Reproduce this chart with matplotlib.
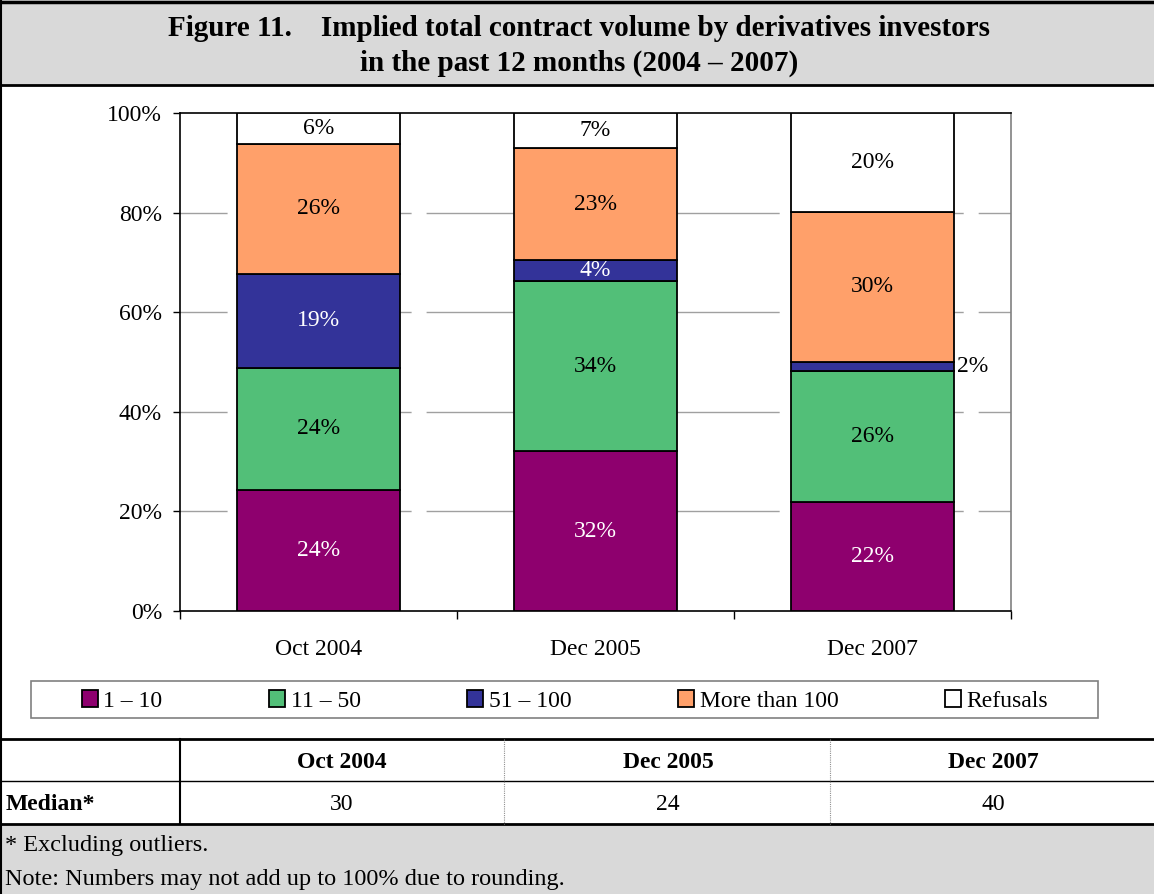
import matplotlib
matplotlib.use("Agg")
import matplotlib.pyplot as plt
import numpy as np
from matplotlib.patches import Rectangle, Patch
from matplotlib.lines import Line2D

plt.rcParams["font.family"] = ["Liberation Serif", "DejaVu Serif"]

W, H = 1154, 894

# data
periods = ["Oct 2004", "Dec 2005", "Dec 2007"]
series = ["1 \u2013 10", "11 \u2013 50", "51 \u2013 100", "More than 100", "Refusals"]
band_1_10 = [24.3, 32.1, 21.8]
band_11_50 = [24.5, 34.1, 26.3]
band_51_100 = [18.9, 4.2, 2.0]
band_over_100 = [26.1, 22.6, 30.0]
refusals = [6.2, 7.0, 19.9]
# printed labels (rounded as in the source)
labels_1_10 = [24, 32, 22]
labels_11_50 = [24, 34, 26]
labels_51_100 = [19, 4, 2]
labels_over_100 = [26, 23, 30]
labels_refusals = [6, 7, 20]
medians = [30, 24, 40]

colors = ["#8E006E", "#52BF78", "#333399", "#FFA06A", "#FFFFFF"]
text_colors = ["white", "black", "white", "black", "black"]


def fx(x):
    return x / W


def fy(y):
    return 1 - y / H


fig = plt.figure(figsize=(W / 100, H / 100), dpi=100)

# title band
fig.patches.append(Rectangle((0, fy(85)), 1, 85 / H, transform=fig.transFigure,
                             facecolor="#D9D9D9", edgecolor="none", zorder=0))
# notes band
fig.patches.append(Rectangle((0, 0), 1, fy(824), transform=fig.transFigure,
                             facecolor="#D9D9D9", edgecolor="none", zorder=0))

fig.text(fx(579), fy(29),
         "Figure 11." + " " * 4 + "Implied total contract volume by derivatives investors",
         ha="center", va="center", fontsize=21, fontweight="bold")
fig.text(fx(579), fy(63), "in the past 12 months (2004 \u2013 2007)",
         ha="center", va="center", fontsize=21, fontweight="bold")

ax = fig.add_axes([fx(180), fy(611), fx(1011) - fx(180), fy(113) - fy(611)])

values = [band_1_10, band_11_50, band_51_100, band_over_100, refusals]
labels = [labels_1_10, labels_11_50, labels_51_100, labels_over_100, labels_refusals]
x = np.arange(len(periods))
bottom = np.zeros(len(periods))
handles = []
for i, name in enumerate(series):
    bars = ax.bar(x, values[i], width=0.59, bottom=bottom, color=colors[i],
                  edgecolor="black", linewidth=1.3, zorder=3, label=name)
    txt = [f"{v}%" for v in labels[i]]
    if i == 2:
        # the 2% slice in Dec 2007 is labelled outside the bar
        outside = txt[2]
        txt[2] = ""
        b = bars[2]
        ax.text(b.get_x() + b.get_width() + 0.01, b.get_y() + b.get_height() / 2,
                outside, ha="left", va="center", fontsize=17, color="black", zorder=4)
    ax.bar_label(bars, labels=txt, label_type="center", fontsize=17,
                 color=text_colors[i], zorder=4)
    bottom += np.array(values[i])
    handles.append(Patch(facecolor=colors[i], edgecolor="black", linewidth=1.3))

ax.set_xlim(-0.5, 2.5)
ax.set_ylim(0, 100)
ax.set_yticks([0, 20, 40, 60, 80, 100])
ax.set_yticklabels([f"{v}%" for v in [0, 20, 40, 60, 80, 100]], fontsize=17)
ax.tick_params(axis="y", direction="out", length=5, width=1, pad=8)
ax.set_xticks(x)
ax.set_xticklabels(periods, fontsize=17)
ax.set_xticks([-0.5, 0.5, 1.5, 2.5], minor=True)
ax.tick_params(axis="x", which="major", length=0, pad=20)
ax.tick_params(axis="x", which="minor", direction="out", length=6, width=1)

# long-dash gridlines, pattern in points at lw=1
for y in [20, 40, 60, 80]:
    ax.axhline(y, color="#A0A0A0", linewidth=1.0, zorder=1,
               linestyle=(87.8, (121.7, 10.8)))

ax.spines["left"].set_linewidth(1.2)
ax.spines["bottom"].set_linewidth(1.2)
ax.spines["top"].set_linewidth(1.2)
ax.spines["right"].set_color("#808080")
ax.spines["right"].set_linewidth(1.2)

# legend box
fig.patches.append(Rectangle((fx(31), fy(718)), fx(1098) - fx(31), fy(681) - fy(718),
                             transform=fig.transFigure, facecolor="white",
                             edgecolor="#808080", linewidth=1.2, zorder=1))
fig.legend(handles, series, loc="center", bbox_to_anchor=(fx(565), fy(701)),
           ncol=5, frameon=False, fontsize=17, handlelength=0.68, handleheight=0.68,
           handletextpad=0.25, columnspacing=4.5)


# frame and table rules
def hline(y, x0=0, x1=W, lw=2.0, color="black", ls="-"):
    fig.add_artist(Line2D([fx(x0), fx(x1)], [fy(y), fy(y)], transform=fig.transFigure,
                          color=color, linewidth=lw, linestyle=ls))


def vline(x, y0, y1, lw=1.5, color="black", ls="-"):
    fig.add_artist(Line2D([fx(x), fx(x)], [fy(y0), fy(y1)], transform=fig.transFigure,
                          color=color, linewidth=lw, linestyle=ls))


hline(2, lw=2.5)
hline(85, lw=2.0)
hline(739, lw=2.0)
hline(781, lw=1.0)
hline(824, lw=2.0)
vline(1, 0, H, lw=1.5)
vline(180, 739, 824, lw=1.5)
vline(504, 739, 824, lw=0.8, color="#909090", ls=(0, (1, 1)))
vline(830, 739, 824, lw=0.8, color="#909090", ls=(0, (1, 1)))

col_centers = [342, 668, 993]
for cx, p, m in zip(col_centers, periods, medians):
    fig.text(fx(cx), fy(762), p, ha="center", va="center", fontsize=17, fontweight="bold")
    fig.text(fx(cx), fy(804), str(m), ha="center", va="center", fontsize=17)
fig.text(fx(6), fy(804), "Median*", ha="left", va="center", fontsize=17, fontweight="bold")

fig.text(fx(5), fy(846), "* Excluding outliers.", ha="left", va="center", fontsize=17.5)
fig.text(fx(5), fy(880), "Note: Numbers may not add up to 100% due to rounding.",
         ha="left", va="center", fontsize=17.5)

fig.savefig("out.png", dpi=100)
